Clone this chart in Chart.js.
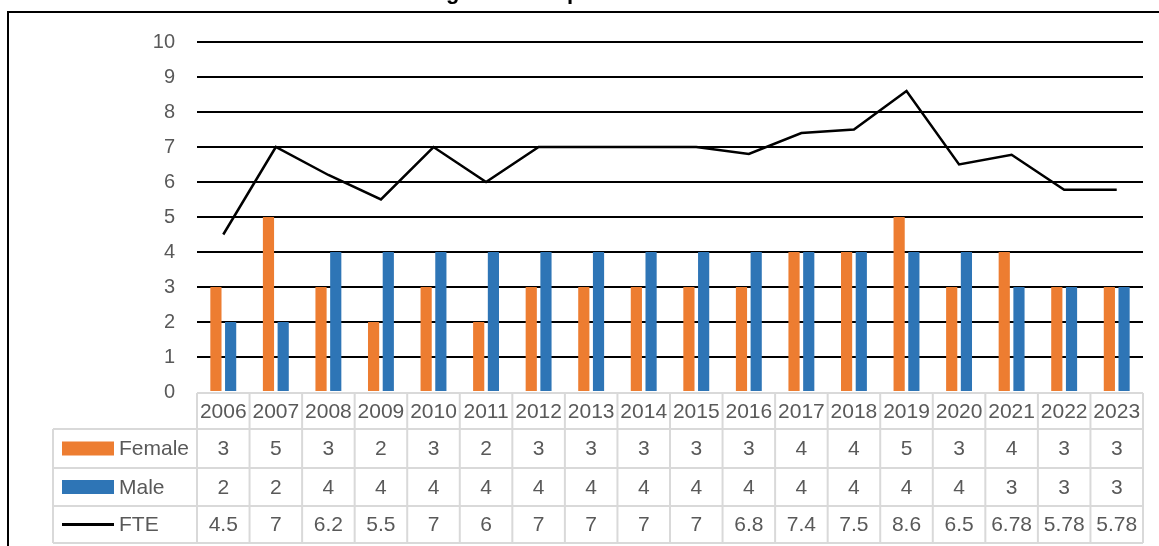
<!DOCTYPE html>
<html>
<head>
<meta charset="utf-8">
<script src="https://cdn.jsdelivr.net/npm/chart.js@4"></script>
<style>
  html, body { margin: 0; padding: 0; background: #fff; }
  #wrap { width: 1159px; height: 546px; position: relative; }
</style>
</head>
<body>
<div id="wrap"><canvas id="chart"></canvas></div>
<script>
// Staffing profile — Chart.js with an Excel-style data table underneath

const TITLE = 'Table 1: Staffing \u2013 Gender profile of academic staff members';
const years = ['2006', '2007', '2008', '2009', '2010', '2011', '2012', '2013', '2014', '2015', '2016', '2017', '2018', '2019', '2020', '2021', '2022', '2023'];
const female = [3, 5, 3, 2, 3, 2, 3, 3, 3, 3, 3, 4, 4, 5, 3, 4, 3, 3];
const male = [2, 2, 4, 4, 4, 4, 4, 4, 4, 4, 4, 4, 4, 4, 4, 3, 3, 3];
const fte = [4.5, 7, 6.2, 5.5, 7, 6, 7, 7, 7, 7, 6.8, 7.4, 7.5, 8.6, 6.5, 6.78, 5.78, 5.78];
const yTicks = [0, 1, 2, 3, 4, 5, 6, 7, 8, 9, 10];

const ORANGE = '#ED7D31';
const BLUE = '#2E75B6';
const TEXT = '#595959';
const TABLE_LINE = '#D9D9D9';
const FONT = '"Liberation Sans", Arial, sans-serif';

// table rows: y of each horizontal line (header, female, male, fte)
const ROW_LINES = [393, 429, 468, 506, 543];
const LEGEND_LEFT = 53;

const tablePlugin = {
  id: 'dataTable',
  afterDraw(chart) {
    const ctx = chart.ctx;
    const x = chart.scales.x;
    const area = chart.chartArea;
    const step = (area.right - area.left) / years.length;

    ctx.save();
    // title (clipped at top in the original)
    ctx.fillStyle = '#000';
    ctx.font = 'bold 22px ' + FONT;
    ctx.textAlign = 'center';
    ctx.textBaseline = 'alphabetic';
    ctx.fillText(TITLE, 607, -1);

    // outer frame
    ctx.strokeStyle = '#000';
    ctx.lineWidth = 2;
    ctx.strokeRect(8, 12, 1200, 600);

    // table grid
    ctx.strokeStyle = TABLE_LINE;
    ctx.lineWidth = 2;
    ctx.beginPath();
    ctx.moveTo(area.left, ROW_LINES[0]);
    ctx.lineTo(area.right, ROW_LINES[0]);
    for (let r = 1; r < ROW_LINES.length; r++) {
      ctx.moveTo(LEGEND_LEFT, ROW_LINES[r]);
      ctx.lineTo(area.right, ROW_LINES[r]);
    }
    for (let i = 0; i <= years.length; i++) {
      const bx = area.left + i * step;
      ctx.moveTo(bx, ROW_LINES[0]);
      ctx.lineTo(bx, ROW_LINES[4]);
    }
    ctx.moveTo(LEGEND_LEFT, ROW_LINES[1]);
    ctx.lineTo(LEGEND_LEFT, ROW_LINES[4]);
    ctx.stroke();

    // cell values
    ctx.fillStyle = TEXT;
    ctx.font = '21px ' + FONT;
    ctx.textAlign = 'center';
    ctx.textBaseline = 'middle';
    const rows = [years, female, male, fte];
    rows.forEach((vals, r) => {
      const cy = (ROW_LINES[r] + ROW_LINES[r + 1]) / 2 + 1;
      vals.forEach((v, i) => ctx.fillText(String(v), x.getPixelForValue(i), cy));
    });

    // legend keys in the first column
    const names = ['Female', 'Male', 'FTE'];
    names.forEach((n, k) => {
      const cy = (ROW_LINES[k + 1] + ROW_LINES[k + 2]) / 2;
      if (k < 2) {
        ctx.fillStyle = k === 0 ? ORANGE : BLUE;
        ctx.fillRect(62, cy - 7, 52, 14);
      } else {
        ctx.strokeStyle = '#000';
        ctx.lineWidth = 3;
        ctx.beginPath();
        ctx.moveTo(62, cy);
        ctx.lineTo(114, cy);
        ctx.stroke();
      }
      ctx.fillStyle = TEXT;
      ctx.textAlign = 'left';
      ctx.fillText(n, 119, cy + 1);
    });
    ctx.restore();
  }
};

new Chart(document.getElementById('chart'), {
  type: 'bar',
  data: {
    labels: years,
    datasets: [
      { type: 'line', label: 'FTE', data: fte, borderColor: '#000', borderWidth: 2.5, pointRadius: 0, tension: 0, order: 0 },
      { label: 'Female', data: female, backgroundColor: ORANGE, categoryPercentage: 0.56, barPercentage: 0.76, order: 1 },
      { label: 'Male', data: male, backgroundColor: BLUE, categoryPercentage: 0.56, barPercentage: 0.76, order: 1 },
    ],
  },
  options: {
    responsive: true,
    maintainAspectRatio: false,
    animation: false,
    layout: { padding: { top: 42, right: 16, bottom: 154, left: 0 } },
    plugins: { legend: { display: false }, tooltip: { enabled: false } },
    scales: {
      x: { display: false },
      y: {
        min: 0,
        max: 10,
        afterFit(scale) { scale.width = 197; },
        afterBuildTicks(scale) { scale.ticks = yTicks.map(v => ({ value: v })); },
        border: { display: false },
        grid: {
          drawTicks: false,
          lineWidth: 2,
          color: c => (c.tick && c.tick.value === 0 ? 'rgba(0,0,0,0)' : '#000'),
        },
        ticks: { padding: 22, color: TEXT, font: { family: FONT, size: 20 } },
      },
    },
  },
  plugins: [tablePlugin],
});
</script>
</body>
</html>
